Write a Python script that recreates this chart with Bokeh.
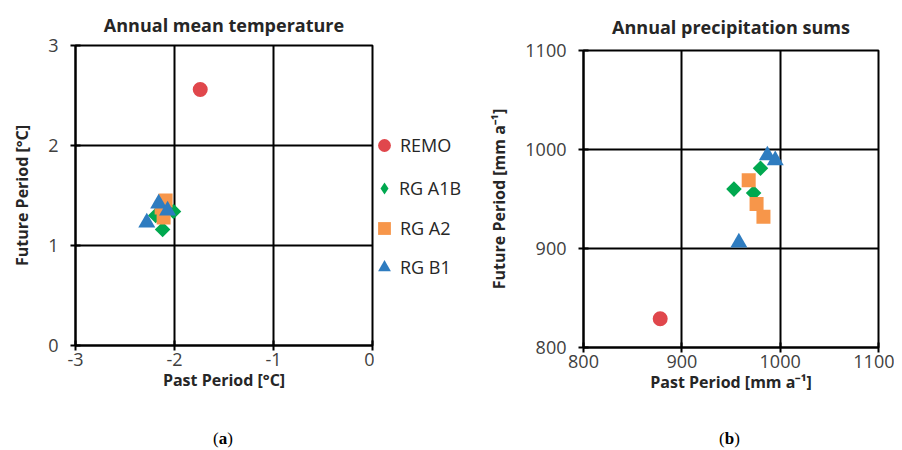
from bokeh.plotting import figure
from bokeh.layouts import row, column
from bokeh.models import Legend, LegendItem, FixedTicker, Range1d, Div
from bokeh.embed import file_html
from bokeh.resources import INLINE

# ---- Data (a) annual mean temperature change ----
temp_remo_x = [-1.74]
temp_remo_y = [2.56]
temp_a1b_x = [-2.12, -2.19, -2.01]
temp_a1b_y = [1.16, 1.30, 1.34]
temp_a2_x = [-2.09, -2.11, -2.13]
temp_a2_y = [1.45, 1.28, 1.38]
temp_b1_x = [-2.16, -2.07, -2.28]
temp_b1_y = [1.42, 1.35, 1.23]
temp_xticks = [-3, -2, -1, 0]
temp_yticks = [0, 1, 2, 3]

# ---- Data (b) annual precipitation sums ----
prec_remo_x = [878]
prec_remo_y = [829]
prec_a1b_x = [980, 953, 973]
prec_a1b_y = [981, 960, 956]
prec_a2_x = [968, 976, 983]
prec_a2_y = [969, 945, 932]
prec_b1_x = [987, 995, 958]
prec_b1_y = [994, 989, 906]
prec_ticks = [800, 900, 1000, 1100]

series_names = ["REMO", "RG A1B", "RG A2", "RG B1"]
panel_labels = ["a", "b"]

RED = "#E0474C"
GREEN = "#00A84F"
ORANGE = "#F7964A"
BLUE = "#2E7CC0"
FONT = "Open Sans"
TXT = "#262626"

# marker, size, colour, angle (deg) ; the diamond is a square turned by 45 degrees
MARKERS = [("circle", 15, RED, 0), ("square", 11, GREEN, 45),
           ("square", 14, ORANGE, 0), ("triangle", 17, BLUE, 0)]
LEG_MARKERS = ["circle", "diamond", "square", "triangle"]
# legend glyph box widths (marker size in the legend = 0.4 * box)
LEG_W = [32, 30, 32, 32]
LEG_CY = [142, 185, 225, 264]
H = 427


def style(p, xticks, yticks, title_standoff):
    p.title.align = "center"
    p.title.text_font = FONT
    p.title.text_font_size = "18px"
    p.title.text_font_style = "bold"
    p.title.text_color = TXT
    p.title.standoff = title_standoff
    p.outline_line_color = "black"
    p.outline_line_width = 2
    p.outline_line_alpha = 1
    for ax, t in ((p.xaxis[0], xticks), (p.yaxis[0], yticks)):
        ax.ticker = FixedTicker(ticks=t)
        ax.major_label_overrides = {v: str(v) for v in t}
        ax.minor_tick_line_color = None
        ax.major_tick_in = 5
        ax.major_tick_out = 5
        ax.major_tick_line_color = "black"
        ax.major_tick_line_width = 2
        ax.axis_line_color = "black"
        ax.axis_line_width = 2
        ax.major_label_text_font = FONT
        ax.major_label_text_font_size = "18px"
        ax.major_label_text_color = "#404040"
        ax.axis_label_text_font = FONT
        ax.axis_label_text_font_size = "16px"
        ax.axis_label_text_font_style = "bold"
        ax.axis_label_text_color = TXT
    p.xaxis[0].major_label_standoff = 2
    p.yaxis[0].major_label_standoff = 12
    p.xaxis[0].axis_label_standoff = 0
    p.yaxis[0].axis_label_standoff = 12
    p.yaxis[0].major_label_orientation = "horizontal"
    p.xgrid[0].ticker = FixedTicker(ticks=xticks)
    p.ygrid[0].ticker = FixedTicker(ticks=yticks)
    for g in (p.xgrid[0], p.ygrid[0]):
        g.grid_line_color = "black"
        g.grid_line_width = 2
        g.grid_line_alpha = 1


def draw(p, data):
    rs = []
    for (xs, ys), (m, s, c, a) in zip(data, MARKERS):
        rs.append(p.scatter(xs, ys, marker=m, size=s, color=c, line_color=None,
                            angle=a, angle_units="deg"))
    return rs


temp_data = [(temp_remo_x, temp_remo_y), (temp_a1b_x, temp_a1b_y),
             (temp_a2_x, temp_a2_y), (temp_b1_x, temp_b1_y)]
prec_data = [(prec_remo_x, prec_remo_y), (prec_a1b_x, prec_a1b_y),
             (prec_a2_x, prec_a2_y), (prec_b1_x, prec_b1_y)]

# ---- Left panel ----
p1 = figure(width=374, height=H, x_range=Range1d(-3, 0), y_range=Range1d(0, 3),
            output_backend="svg", toolbar_location=None,
            title="Annual mean temperature",
            x_axis_label="Past Period [°C]", y_axis_label="Future Period [°C]",
            min_border_left=75, min_border_right=2, min_border_top=45, min_border_bottom=H - 345)
style(p1, temp_xticks, temp_yticks, 18)
draw(p1, temp_data)

# ---- Legend column (outside the left plot frame) ----
# Legend renderers reuse the temperature series; all of them fall outside this
# helper figure's (0..1) ranges, so only their legend glyphs are visible.
p3 = figure(width=104, height=H, x_range=Range1d(0, 1), y_range=Range1d(0, 1),
            output_backend="svg", toolbar_location=None,
            x_axis_location=None, y_axis_location=None,
            min_border_left=0, min_border_right=0, min_border_top=0, min_border_bottom=0)
p3.outline_line_color = None
p3.grid.visible = False
for (xs, ys), m, (_, s, c, _a), name, gw, cy in zip(temp_data, LEG_MARKERS, MARKERS,
                                                    series_names, LEG_W, LEG_CY):
    r = p3.scatter(xs, ys, marker=m, size=s, color=c, line_color=None)
    lx = 13 - 3 - gw // 2
    leg = Legend(items=[LegendItem(label=name, renderers=[r], index=0)],
                 location=(lx, H - cy - 19), border_line_color=None, background_fill_alpha=0,
                 margin=0, padding=3, label_text_font=FONT, label_text_font_size="18px",
                 label_text_color=TXT, glyph_width=gw, glyph_height=32, label_height=32,
                 spacing=0, label_standoff=25 - (lx + 3 + gw))
    p3.add_layout(leg, "center")

# ---- Right panel ----
p2 = figure(width=416, height=H, x_range=Range1d(800, 1100), y_range=Range1d(800, 1100),
            output_backend="svg", toolbar_location=None,
            title="Annual precipitation sums",
            x_axis_label="Past Period [mm a⁻¹]", y_axis_label="Future Period [mm a⁻¹]",
            min_border_left=105, min_border_right=16, min_border_top=50, min_border_bottom=H - 347)
style(p2, prec_ticks, prec_ticks, 24)
draw(p2, prec_data)

# ---- Panel captions (a), (b) ----
caption = Div(
    text=(
        '<div style="position:relative;height:23px;width:894px;'
        'font-family:\'Liberation Serif\',serif;font-size:17px;color:#000;">'
        f'<span style="position:absolute;left:213px;top:0;">(<b>{panel_labels[0]}</b>)</span>'
        f'<span style="position:absolute;left:719px;top:0;">(<b>{panel_labels[1]}</b>)</span>'
        '</div>'
    ),
    width=894, height=23, margin=0,
)

layout = column(row(column(p1), column(p3), column(p2)), caption)
open("out.html", "w").write(file_html(layout, INLINE))
